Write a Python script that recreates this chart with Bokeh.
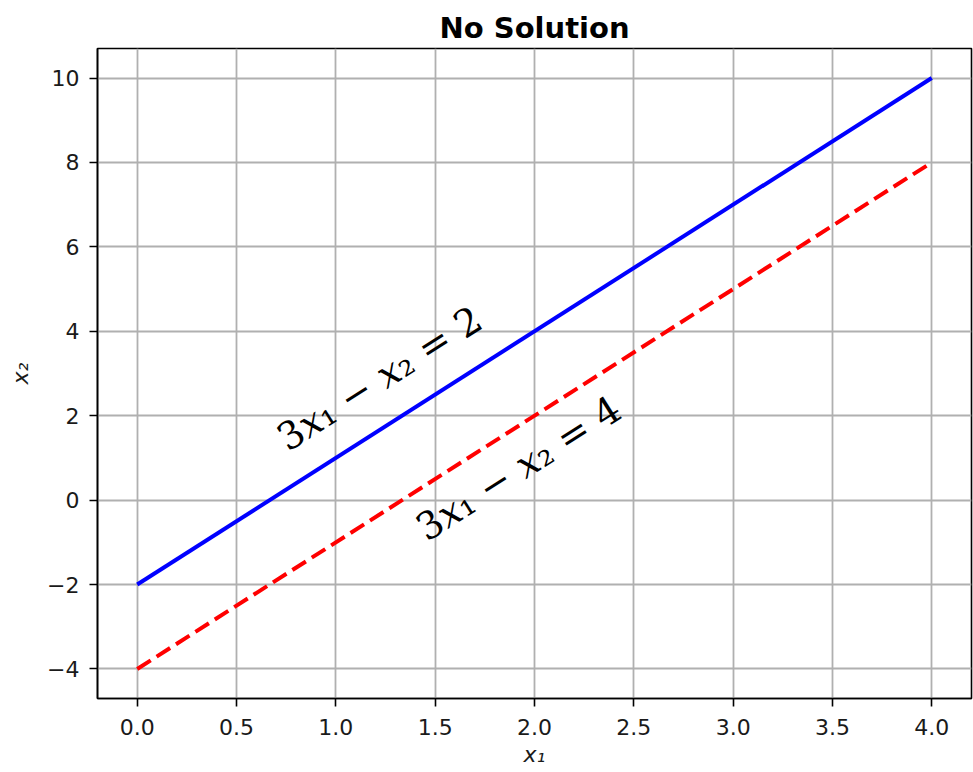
import math
from bokeh.plotting import figure
from bokeh.models import FixedTicker, Range1d
from bokeh.embed import file_html
from bokeh.resources import INLINE
from bokeh.core.properties import value

# ---- data ----
x1_vals = [0.0, 4.0]
line1_x2 = [-2.0, 10.0]   # 3x1 - x2 = 2
line2_x2 = [-4.0, 8.0]    # 3x1 - x2 = 4
x_ticks = [0.0, 0.5, 1.0, 1.5, 2.0, 2.5, 3.0, 3.5, 4.0]
x_tick_labels = ["0.0", "0.5", "1.0", "1.5", "2.0", "2.5", "3.0", "3.5", "4.0"]
y_ticks = [-4, -2, 0, 2, 4, 6, 8, 10]
y_tick_labels = ["\u22124", "\u22122", "0", "2", "4", "6", "8", "10"]
eq_texts = ["3\U0001D465\u2081 \u2212 \U0001D465\u2082 = 2", "3\U0001D465\u2081 \u2212 \U0001D465\u2082 = 4"]
eq_x = [1.22, 1.92]
eq_y = [2.88, 0.75]
x_range = (-0.2, 4.2)
y_range = (-4.7, 10.7)
slope = 3.0

W, H = 973, 772
ML, MR, MT, MB = 97, 2, 48, 74

p = figure(width=W, height=H, output_backend="svg", toolbar_location=None,
           x_range=Range1d(*x_range), y_range=Range1d(*y_range),
           min_border_left=ML, min_border_right=MR, min_border_top=MT, min_border_bottom=MB,
           title="No Solution")
p.title.text_font = "DejaVu Sans"
p.title.text_font_size = "29px"
p.title.text_font_style = "bold"
p.title.align = "center"
p.title.vertical_align = "top"
p.title.text_color = "black"
p.title.standoff = 4

p.outline_line_color = "black"
p.outline_line_width = 1.6
p.background_fill_color = "white"
p.border_fill_color = "white"

for ax, ticks, labels in ((p.xaxis[0], x_ticks, x_tick_labels), (p.yaxis[0], y_ticks, y_tick_labels)):
    ax.ticker = FixedTicker(ticks=ticks)
    ax.major_label_overrides = {t: l for t, l in zip(ticks, labels)}
    ax.major_label_text_font = "DejaVu Sans"
    ax.major_label_text_font_size = "22px"
    ax.major_label_text_color = "#1a1a1a"
    ax.major_tick_out = 8
    ax.major_tick_in = 0
    ax.minor_tick_out = 0
    ax.minor_tick_in = 0
    ax.major_tick_line_width = 1.6
    ax.major_tick_line_color = "black"
    ax.axis_line_color = "black"
    ax.axis_line_width = 1.6
    ax.axis_label_text_font = "DejaVu Sans"
    ax.axis_label_text_font_size = "22px"
    ax.axis_label_text_font_style = "italic"
    ax.axis_label_text_color = "#1a1a1a"

p.xaxis.axis_label = "x\u2081"
p.yaxis.axis_label = "x\u2082"
p.xaxis.major_label_standoff = 12
p.xaxis.axis_label_standoff = 4
p.yaxis.major_label_standoff = 10
p.yaxis.axis_label_standoff = 11

p.grid.grid_line_color = "#b0b0b0"
p.grid.grid_line_width = 1.8

p.line(x1_vals, line1_x2, line_color="#0000ff", line_width=4)
p.line(x1_vals, line2_x2, line_color="#ff0000", line_width=4, line_dash="16 7")

fw = W - ML - MR
fh = H - MT - MB
ang = math.atan(slope * (fh / (y_range[1] - y_range[0])) / (fw / (x_range[1] - x_range[0])))
p.text(x=eq_x, y=eq_y, text=eq_texts, angle=ang,
       text_font=value("DejaVu Serif"), text_font_size="38px",
       text_align="center", text_baseline="middle", text_color="black")

open("out.html", "w").write(file_html(p, INLINE))
